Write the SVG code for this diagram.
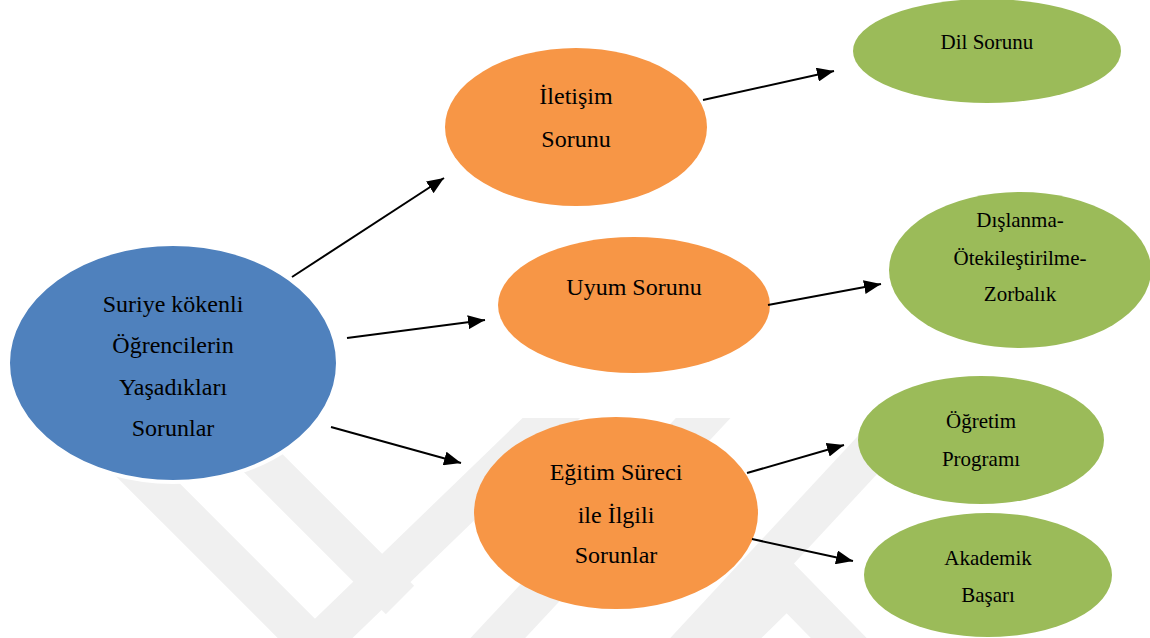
<svg xmlns="http://www.w3.org/2000/svg" width="1150" height="638" viewBox="0 0 1150 638">
<defs>
<style>
.t{font-family:"Liberation Serif","Times New Roman",serif;fill:#000;text-anchor:middle}
.big{font-size:24px}
.sm{font-size:21px}
.blue{fill:#4F81BD}
.orange{fill:#F79646}
.green{fill:#9BBB59}
.wm{fill:none;stroke:#f0f0f0;stroke-width:40;stroke-linecap:butt}
.conn line{stroke:#000;stroke-width:2;marker-end:url(#ah)}
</style>
<marker id="ah" markerUnits="userSpaceOnUse" markerWidth="17" markerHeight="14" refX="17" refY="7" orient="auto">
<path d="M0,0 L17,7 L0,14 z" fill="#000"/>
</marker>
<clipPath id="wmclip"><rect x="0" y="418" width="1150" height="220"/></clipPath>
</defs>
<rect width="1150" height="638" fill="#fff"/>
<g id="watermark" clip-path="url(#wmclip)">
<line class="wm" x1="120" y1="452" x2="340" y2="672"/>
<line class="wm" x1="240" y1="440" x2="400" y2="600"/>
<line class="wm" x1="270" y1="690" x2="570" y2="400"/>
<line class="wm" x1="440" y1="700" x2="720" y2="400"/>
<line class="wm" x1="640" y1="700" x2="900" y2="420"/>
<polyline class="wm" points="700,670 787,585 870,670"/>
</g>
<g id="n-root">
<ellipse class="blue" cx="173" cy="363" rx="165" ry="119" stroke="#fff" stroke-width="4"/>
<text class="t big" x="173" y="312">Suriye kökenli</text>
<text class="t big" x="173" y="353">Öğrencilerin</text>
<text class="t big" x="173" y="395">Yaşadıkları</text>
<text class="t big" x="173" y="436">Sorunlar</text>
</g>
<g id="n-iletisim">
<ellipse class="orange" cx="576" cy="127" rx="131" ry="79"/>
<text class="t big" x="576" y="104">İletişim</text>
<text class="t big" x="576" y="147">Sorunu</text>
</g>
<g id="n-uyum">
<ellipse class="orange" cx="634" cy="305" rx="136" ry="68"/>
<text class="t big" x="634" y="295">Uyum Sorunu</text>
</g>
<g id="n-egitim">
<ellipse class="orange" cx="616" cy="513" rx="142" ry="96"/>
<text class="t big" x="616" y="480">Eğitim Süreci</text>
<text class="t big" x="616" y="523">ile İlgili</text>
<text class="t big" x="616" y="563">Sorunlar</text>
</g>
<g id="n-dil">
<ellipse class="green" cx="987" cy="51" rx="134" ry="52"/>
<text class="t sm" x="987" y="49">Dil Sorunu</text>
</g>
<g id="n-dislanma">
<ellipse class="green" cx="1020" cy="270" rx="131" ry="78"/>
<text class="t sm" x="1020" y="227">Dışlanma-</text>
<text class="t sm" x="1020" y="265">Ötekileştirilme-</text>
<text class="t sm" x="1020" y="301">Zorbalık</text>
</g>
<g id="n-ogretim">
<ellipse class="green" cx="981" cy="440" rx="123" ry="64"/>
<text class="t sm" x="981" y="428">Öğretim</text>
<text class="t sm" x="981" y="466">Programı</text>
</g>
<g id="n-akademik">
<ellipse class="green" cx="988" cy="575" rx="124" ry="62"/>
<text class="t sm" x="988" y="565">Akademik</text>
<text class="t sm" x="988" y="602">Başarı</text>
</g>
<g id="connectors" class="conn">
<line x1="292" y1="277" x2="444" y2="178"/>
<line x1="347" y1="338" x2="485" y2="320"/>
<line x1="331" y1="427" x2="461" y2="463"/>
<line x1="703" y1="100" x2="834" y2="71"/>
<line x1="768" y1="305" x2="881" y2="284"/>
<line x1="747" y1="473" x2="844" y2="445"/>
<line x1="752" y1="539" x2="853" y2="561"/>
</g>
</svg>
